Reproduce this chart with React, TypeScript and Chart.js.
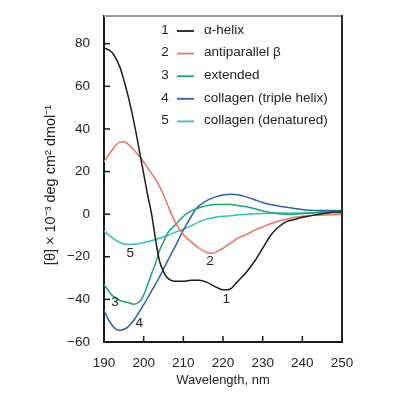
import React, { useEffect, useRef } from "react";
import { Chart, registerables } from "chart.js";

Chart.register(...registerables);

const seriesNames = ["α-helix", "antiparallel β", "extended", "collagen (triple helix)", "collagen (denatured)"];
const seriesNumbers = ["1", "2", "3", "4", "5"];
const seriesColors = ["#1c1c1c", "#e8735f", "#1ea472", "#2b62a6", "#33c0c4"];

const helixX = [190, 192, 194, 195, 196, 197, 198, 199, 200, 201, 202, 203, 204, 205, 206, 208, 210, 212, 214, 216, 218, 220, 221, 222, 223, 224, 226, 228, 230, 232, 234, 236, 238, 240, 242, 244, 246, 248, 250];
const helixY = [78, 76, 69, 63, 56, 48, 39, 29, 19, 9, 0, -12, -22, -27, -30, -31.5, -31.5, -31, -31, -32, -34, -35.5, -35.5, -35, -33, -31, -27, -22, -16, -10, -6, -3.5, -2.5, -1.5, -0.8, 0, 0.5, 1, 1];

const betaX = [190, 192, 194, 195, 196, 198, 200, 202, 204, 206, 208, 210, 212, 214, 216, 217.5, 219, 220, 222, 224, 226, 228, 230, 232, 234, 236, 238, 240, 244, 250];
const betaY = [24.5, 30, 33.8, 34, 33, 29, 24.5, 19, 13, 4.5, -4, -9.5, -13, -16, -18, -18.3, -17, -16, -13.5, -11, -9.5, -7.5, -6, -4.5, -3.2, -2.3, -1.5, -1, -0.5, 0];

const extendedX = [190, 192, 194, 196, 197.5, 199, 200, 201, 202, 203, 204, 205, 206, 208, 210, 212, 214, 216, 218, 220, 222, 224, 226, 228, 230, 232, 234, 236, 238, 240, 242, 244, 246, 248, 250];
const extendedY = [-33, -38, -40.5, -41.5, -42.3, -41, -38, -33, -28, -23, -17, -13, -9, -5, -1, 1.5, 3, 4, 4.5, 4.5, 4.5, 4, 3.5, 2.5, 1.5, 0.8, 0.2, 0, 0, 0.2, 0.5, 0.9, 1.2, 1.4, 1.5];

const tripleX = [190, 191, 192, 193, 194, 195, 196, 197, 198, 199, 200, 202, 204, 206, 208, 210, 212, 213, 214, 216, 218, 220, 222, 224, 226, 228, 230, 232, 234, 236, 238, 240, 242, 244, 246, 248, 250];
const tripleY = [-45, -49, -52, -54, -54.5, -54, -53, -51, -48.5, -45.5, -42.5, -36, -29.5, -22, -15, -7.5, -1, 2, 4, 6.5, 8, 9, 9.3, 9, 8, 6.8, 5.5, 4.5, 3.8, 3.2, 2.7, 2.2, 1.8, 1.7, 1.7, 1.7, 1.7];

const denaturedX = [190, 192, 194, 196, 198, 200, 202, 204, 206, 208, 210, 212, 214, 216, 218, 220, 222, 224, 226, 230, 235, 240, 245, 250];
const denaturedY = [-8, -11, -13.3, -14.2, -14, -13.3, -12.5, -11.3, -10, -8.5, -7, -5.5, -3.5, -2.3, -1.4, -1, -0.7, -0.3, 0, 0.3, 0.5, 0.6, 0.7, 0.7];

const xTicks = [190, 200, 210, 220, 230, 240, 250];
const yTicks = [-60, -40, -20, 0, 20, 40, 60, 80];

const curveLabelX = [220.8, 216.7, 192.8, 198.9, 196.6];
const curveLabelY = [-40, -22, -41.3, -51, -18.2];

const xTitle = "Wavelength, nm";
const yTitle = "[θ] × 10⁻³ deg cm² dmol⁻¹";

const FONT = "'Liberation Sans', Arial, sans-serif";

const pairs = (xs: number[], ys: number[]) => xs.map((x, i) => ({ x, y: ys[i] }));
const fmt = (v: number) => (v < 0 ? "\u2212" + Math.abs(v) : String(v));

const decorPlugin = {
  id: "decor",
  afterDraw(chart: any) {
    const ctx = chart.ctx;
    const { left, right, top, bottom } = chart.chartArea;
    const xs = chart.scales.x;
    const ys = chart.scales.y;
    ctx.save();
    // frame: top gray, right dark
    ctx.lineWidth = 2;
    ctx.strokeStyle = "#9a9a9a";
    ctx.beginPath();
    ctx.moveTo(left, top);
    ctx.lineTo(right, top);
    ctx.stroke();
    ctx.strokeStyle = "#2a2a2a";
    ctx.beginPath();
    ctx.moveTo(right, top - 1);
    ctx.lineTo(right, bottom);
    ctx.stroke();
    // inward ticks
    ctx.lineWidth = 1.5;
    ctx.strokeStyle = "#1a1a1a";
    xTicks.forEach((v) => {
      const px = xs.getPixelForValue(v);
      ctx.beginPath();
      ctx.moveTo(px, bottom);
      ctx.lineTo(px, bottom - 6);
      ctx.stroke();
    });
    yTicks.forEach((v) => {
      const py = ys.getPixelForValue(v);
      ctx.beginPath();
      ctx.moveTo(left, py);
      ctx.lineTo(left + 6, py);
      ctx.stroke();
    });
    // curve labels
    ctx.fillStyle = "#222";
    ctx.font = `13.5px ${FONT}`;
    ctx.textAlign = "center";
    ctx.textBaseline = "middle";
    seriesNumbers.forEach((n, i) => {
      ctx.fillText(n, xs.getPixelForValue(curveLabelX[i]), ys.getPixelForValue(curveLabelY[i]));
    });
    // legend
    const rowY0 = 30;
    const rowStep = 22.6;
    seriesNames.forEach((name, i) => {
      const y = rowY0 + i * rowStep;
      ctx.fillStyle = "#222";
      ctx.textAlign = "center";
      ctx.fillText(seriesNumbers[i], 165, y);
      ctx.strokeStyle = seriesColors[i];
      ctx.lineWidth = 1.8;
      ctx.beginPath();
      ctx.moveTo(177, y + 1);
      ctx.lineTo(194, y + 1);
      ctx.stroke();
      ctx.textAlign = "left";
      ctx.fillText(name, 204, y);
    });
    // axis titles
    ctx.fillStyle = "#222";
    ctx.textAlign = "center";
    ctx.textBaseline = "middle";
    ctx.font = `13px ${FONT}`;
    ctx.fillText(xTitle, (left + right) / 2, 380);
    ctx.font = `14.5px ${FONT}`;
    ctx.translate(51, 185);
    ctx.rotate(-Math.PI / 2);
    ctx.fillText(yTitle, 0, 0);
    ctx.restore();
  },
};

export default function App() {
  const ref = useRef<HTMLCanvasElement | null>(null);
  useEffect(() => {
    if (!ref.current) return;
    const datasets = [
      pairs(helixX, helixY),
      pairs(betaX, betaY),
      pairs(extendedX, extendedY),
      pairs(tripleX, tripleY),
      pairs(denaturedX, denaturedY),
    ].map((data, i) => ({
      label: seriesNames[i],
      data,
      borderColor: seriesColors[i],
      backgroundColor: seriesColors[i],
      borderWidth: 1.5,
      pointRadius: 0,
      fill: false,
      cubicInterpolationMode: "monotone" as const,
    }));
    const chart = new Chart(ref.current, {
      type: "line",
      data: { datasets },
      options: {
        animation: false,
        responsive: true,
        maintainAspectRatio: false,
        layout: { padding: { top: 16, right: 58, left: 0, bottom: 0 } },
        plugins: { legend: { display: false }, tooltip: { enabled: false } },
        scales: {
          x: {
            type: "linear",
            min: 190,
            max: 250,
            afterFit: (s: any) => { s.height = 58; },
            afterBuildTicks: (s: any) => { s.ticks = xTicks.map((v) => ({ value: v })); },
            grid: { display: false },
            border: { display: true, color: "#1a1a1a", width: 2 },
            ticks: { color: "#222", font: { family: FONT, size: 13.5 }, padding: 5, maxRotation: 0, callback: (v: any) => fmt(Number(v)) },
          },
          y: {
            type: "linear",
            min: -60,
            max: 93,
            afterFit: (s: any) => { s.width = 104; },
            afterBuildTicks: (s: any) => { s.ticks = yTicks.map((v) => ({ value: v })); },
            grid: { display: false },
            border: { display: true, color: "#1a1a1a", width: 2 },
            ticks: { color: "#222", font: { family: FONT, size: 13.5 }, padding: 6, callback: (v: any) => fmt(Number(v)) },
          },
        },
      },
      plugins: [decorPlugin],
    });
    return () => chart.destroy();
  }, []);
  return (
    <div style={{ position: "fixed", left: 0, top: 0, width: 400, height: 400, background: "#fff" }}>
      <canvas ref={ref} />
    </div>
  );
}
